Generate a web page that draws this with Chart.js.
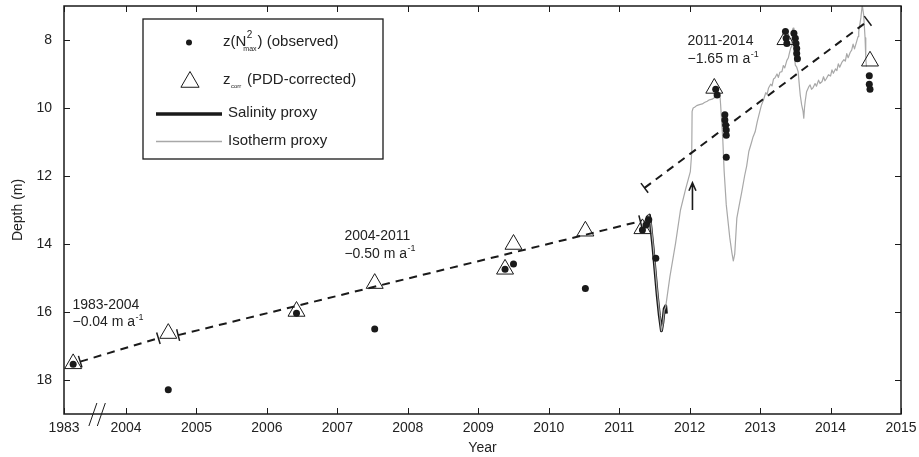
<!DOCTYPE html>
<html>
<head>
<meta charset="utf-8">
<title>Depth of the density interface</title>
<script src="https://cdn.jsdelivr.net/npm/chart.js@4.4.1/dist/chart.umd.min.js"></script>
<style>
  body { margin: 0; background: #fff; }
  #chart { display: block; }
</style>
</head>
<body>
<canvas id="chart" width="919" height="457"></canvas>
<script>
'use strict';

// DATA

// positions on the broken year axis; the first position stands for 1983
let xTickPos = [2003.12, 2004, 2005, 2006, 2007, 2008, 2009, 2010, 2011, 2012, 2013, 2014, 2015];
let xTickLabels = ['1983', '2004', '2005', '2006', '2007', '2008', '2009', '2010', '2011', '2012', '2013', '2014', '2015'];
let yTicks = [8, 10, 12, 14, 16, 18];

// z(N2max) observed (1983 sits at 2003.25 on the broken axis)
let obsYear = [2003.25, 2004.6, 2006.42, 2007.53, 2009.38, 2009.5, 2010.52,
  2011.33, 2011.38, 2011.42, 2011.52,
  2012.37, 2012.39, 2012.5, 2012.5, 2012.51, 2012.52, 2012.52, 2012.52,
  2013.36, 2013.37, 2013.38, 2013.48, 2013.5, 2013.51, 2013.52, 2013.52, 2013.53,
  2014.55, 2014.55, 2014.56];
let obsDepth = [17.54, 18.29, 16.04, 16.5, 14.74, 14.59, 15.31,
  13.59, 13.44, 13.29, 14.42,
  9.45, 9.62, 10.2, 10.35, 10.5, 10.65, 10.8, 11.45,
  7.75, 7.95, 8.1, 7.8, 7.95, 8.1, 8.25, 8.4, 8.55,
  9.05, 9.3, 9.45];

// z_corr (PDD-corrected)
let corrYear = [2003.25, 2004.6, 2006.42, 2007.53, 2009.38, 2009.5, 2010.52, 2011.33, 2012.35, 2013.36, 2014.56];
let corrDepth = [17.52, 16.63, 15.98, 15.16, 14.74, 14.01, 13.62, 13.55, 9.42, 7.99, 8.62];

// trend segments
let trendAYear = [2003.35, 2004.46];
let trendADepth = [17.46, 16.77];
let trendBYear = [2004.74, 2011.3];
let trendBDepth = [16.68, 13.33];
let trendCYear = [2011.36, 2014.53];
let trendCDepth = [12.35, 7.44];

// salinity proxy
let salYear = [2011.36, 2011.4, 2011.43, 2011.45, 2011.48, 2011.51, 2011.54, 2011.57, 2011.6, 2011.62, 2011.64, 2011.66, 2011.67];
let salDepth = [13.45, 13.2, 13.15, 13.5, 14.1, 14.8, 15.5, 16.1, 16.55, 16.3, 15.9, 15.82, 16.05];

// isotherm proxy
let isoYear = [2011.38, 2011.42, 2011.45, 2011.48, 2011.51, 2011.54, 2011.57, 2011.6, 2011.62, 2011.64, 2011.66,
  2011.72, 2011.8, 2011.87, 2011.94, 2012.01, 2012.03, 2012.035, 2012.05, 2012.07, 2012.1, 2012.14, 2012.18,
  2012.21, 2012.25, 2012.28, 2012.32, 2012.35, 2012.38, 2012.41, 2012.43, 2012.44, 2012.47, 2012.49, 2012.52,
  2012.57, 2012.6, 2012.62, 2012.64, 2012.67, 2012.7, 2012.74, 2012.78, 2012.81, 2012.84, 2012.88, 2012.9,
  2012.93, 2012.96, 2012.99, 2013.02, 2013.05, 2013.08, 2013.1, 2013.12, 2013.15, 2013.17, 2013.19, 2013.21,
  2013.24, 2013.26, 2013.28, 2013.31, 2013.33, 2013.35, 2013.38, 2013.4, 2013.42, 2013.44, 2013.45, 2013.46,
  2013.47, 2013.48, 2013.5, 2013.52, 2013.54, 2013.56, 2013.57, 2013.59, 2013.61, 2013.62, 2013.63, 2013.64,
  2013.66, 2013.69, 2013.71, 2013.73, 2013.75, 2013.78, 2013.8, 2013.83, 2013.85, 2013.88, 2013.9, 2013.92,
  2013.94, 2013.97, 2014.0, 2014.02, 2014.04, 2014.07, 2014.09, 2014.11, 2014.13, 2014.16, 2014.19, 2014.21,
  2014.23, 2014.25, 2014.28, 2014.3, 2014.32, 2014.34, 2014.37, 2014.39, 2014.4, 2014.43, 2014.45, 2014.47,
  2014.49, 2014.5, 2014.51];
let isoDepth = [13.35, 13.15, 13.4, 14.0, 14.7, 15.4, 16.0, 16.55, 16.35, 15.95, 15.85,
  14.96, 13.98, 13.0, 12.41, 11.87, 11.3, 10.1, 10.0, 9.98, 9.93, 9.9, 9.88,
  9.84, 9.8, 9.76, 9.74, 9.7, 9.66, 9.6, 9.62, 9.91, 10.9, 11.87, 12.85,
  13.82, 14.26, 14.5, 14.3, 13.24, 12.9, 12.47, 12.0, 11.7, 11.28, 11.0, 10.85,
  10.7, 10.4, 10.15, 9.91, 9.75, 9.55, 9.6, 9.41, 9.3, 9.35, 9.15, 9.12,
  9.0, 9.1, 8.95, 8.93, 8.75, 8.82, 8.6, 8.53, 8.35, 8.2, 8.15, 7.7,
  7.65, 8.3, 8.74, 8.8, 8.93, 9.4, 9.62, 9.91, 10.1, 10.3, 10.0, 9.81,
  9.52, 9.38, 9.32, 9.45, 9.41, 9.28, 9.36, 9.18, 9.28, 9.22, 9.08, 9.2,
  9.14, 9.02, 9.06, 8.88, 8.98, 8.85, 8.9, 8.7, 8.8, 8.66, 8.58, 8.62,
  8.4, 8.52, 8.36, 8.3, 8.12, 8.26, 8.05, 7.9, 7.76, 7.35, 6.97, 7.26,
  7.94, 8.53, 8.78];

// HELPERS

const FONT = "'Liberation Sans', Arial, Helvetica, sans-serif";
const INK = '#1a1a1a';

function toPoints(xs, ys) {
  return xs.map((x, i) => ({ x: x, y: ys[i] }));
}

function textWithSup(ctx, main, sup, x, y) {
  ctx.font = '14px ' + FONT;
  ctx.fillText(main, x, y);
  let w = ctx.measureText(main).width;
  ctx.font = '9px ' + FONT;
  ctx.fillText(sup, x + w + 0.5, y - 5);
}

// PLUGIN: box, inward ticks, axis break, arrow, notes, legend

const decor = {
  id: 'decor',
  afterDraw(chart) {
    const { ctx, chartArea: a, scales: { x, y } } = chart;
    ctx.save();

    // frame
    ctx.strokeStyle = INK;
    ctx.lineWidth = 1.5;
    ctx.strokeRect(a.left, a.top, a.right - a.left, a.bottom - a.top);

    // inward ticks on all sides
    ctx.lineWidth = 1;
    ctx.beginPath();
    x.ticks.forEach(t => {
      let px = Math.round(x.getPixelForValue(t.value)) + 0.5;
      ctx.moveTo(px, a.bottom); ctx.lineTo(px, a.bottom - 6);
      ctx.moveTo(px, a.top); ctx.lineTo(px, a.top + 6);
    });
    y.ticks.forEach(t => {
      let py = Math.round(y.getPixelForValue(t.value)) + 0.5;
      ctx.moveTo(a.left, py); ctx.lineTo(a.left + 6, py);
      ctx.moveTo(a.right, py); ctx.lineTo(a.right - 6, py);
    });
    ctx.stroke();

    // axis break marks
    ctx.beginPath();
    [2003.53, 2003.65].forEach(v => {
      let px = x.getPixelForValue(v);
      ctx.moveTo(px - 4, a.bottom + 12);
      ctx.lineTo(px + 4, a.bottom - 11);
    });
    ctx.stroke();

    // arrow
    let ax = x.getPixelForValue(2012.04);
    let aTop = y.getPixelForValue(12.2);
    let aBot = y.getPixelForValue(13.0);
    ctx.lineWidth = 1.6;
    ctx.beginPath();
    ctx.moveTo(ax, aBot); ctx.lineTo(ax, aTop);
    ctx.moveTo(ax - 3.5, aTop + 8); ctx.lineTo(ax, aTop); ctx.lineTo(ax + 3.5, aTop + 8);
    ctx.stroke();

    // trend notes
    ctx.fillStyle = '#222';
    ctx.textBaseline = 'middle';
    ctx.textAlign = 'left';
    let notes = [
      { x: 2003.24, y1: 15.79, y2: 16.31, head: '1983-2004', rate: '\u22120.04 m a' },
      { x: 2007.1, y1: 13.76, y2: 14.29, head: '2004-2011', rate: '\u22120.50 m a' },
      { x: 2011.97, y1: 8.03, y2: 8.56, head: '2011-2014', rate: '\u22121.65 m a' }
    ];
    notes.forEach(n => {
      let px = x.getPixelForValue(n.x);
      ctx.font = '14px ' + FONT;
      ctx.fillText(n.head, px, y.getPixelForValue(n.y1));
      textWithSup(ctx, n.rate, '-1', px, y.getPixelForValue(n.y2));
    });

    // legend
    let lx = a.left + 79;
    let ly = a.top + 13;
    ctx.fillStyle = '#fff';
    ctx.fillRect(lx, ly, 240, 140);
    ctx.strokeStyle = INK;
    ctx.lineWidth = 1.3;
    ctx.strokeRect(lx, ly, 240, 140);

    ctx.fillStyle = INK;
    ctx.beginPath();
    ctx.arc(lx + 46, ly + 23.5, 3, 0, Math.PI * 2);
    ctx.fill();

    ctx.lineWidth = 1;
    let tx = lx + 47, ty = ly + 63, r = 10.5;
    ctx.beginPath();
    ctx.moveTo(tx, ty - r);
    ctx.lineTo(tx + r * 0.866, ty + r / 2);
    ctx.lineTo(tx - r * 0.866, ty + r / 2);
    ctx.closePath();
    ctx.stroke();

    ctx.lineWidth = 3.5;
    ctx.beginPath();
    ctx.moveTo(lx + 13, ly + 95); ctx.lineTo(lx + 79, ly + 95);
    ctx.stroke();
    ctx.strokeStyle = '#a8a8a8';
    ctx.lineWidth = 1.3;
    ctx.beginPath();
    ctx.moveTo(lx + 13, ly + 122.5); ctx.lineTo(lx + 79, ly + 122.5);
    ctx.stroke();

    ctx.fillStyle = '#222';
    let t0 = lx + 80;
    ctx.font = '15px ' + FONT;
    ctx.fillText('z(N', t0, ly + 23);
    let w = ctx.measureText('z(N').width;
    ctx.font = '10px ' + FONT;
    ctx.fillText('2', t0 + w + 0.5, ly + 16.5);
    ctx.font = '7px ' + FONT;
    ctx.fillText('max', t0 + w - 3, ly + 30);
    let wm = ctx.measureText('max').width;
    ctx.font = '15px ' + FONT;
    ctx.fillText(') (observed)', t0 + w - 2 + wm, ly + 23);

    ctx.fillText('z', t0, ly + 61);
    let wz = ctx.measureText('z').width;
    ctx.font = '6px ' + FONT;
    ctx.fillText('corr', t0 + wz + 0.5, ly + 67);
    let wc = ctx.measureText('corr').width;
    ctx.font = '15px ' + FONT;
    ctx.fillText(' (PDD-corrected)', t0 + wz + wc + 2, ly + 61);

    ctx.fillText('Salinity proxy', lx + 85, ly + 94);
    ctx.fillText('Isotherm proxy', lx + 85, ly + 122);

    ctx.restore();
  }
};

// CHART

let ctx = document.getElementById('chart').getContext('2d');

Chart.defaults.font.family = FONT;
Chart.defaults.font.size = 14;
Chart.defaults.color = '#222';

function trendSet(xs, ys, rot) {
  return {
    type: 'line',
    data: toPoints(xs, ys),
    borderColor: INK,
    borderWidth: 2,
    borderDash: [8, 6],
    pointStyle: 'line',
    pointRadius: 6,
    pointRotation: rot,
    pointBorderWidth: 1.5,
    pointBorderColor: INK,
    tension: 0,
    order: 2
  };
}

new Chart(ctx, {
  type: 'scatter',
  data: {
    datasets: [
      {
        label: 'z(N2max) (observed)',
        data: toPoints(obsYear, obsDepth),
        pointStyle: 'circle',
        pointRadius: 3.5,
        backgroundColor: INK,
        borderColor: INK,
        borderWidth: 0,
        order: 0
      },
      {
        label: 'zcorr (PDD-corrected)',
        data: toPoints(corrYear, corrDepth),
        pointStyle: 'triangle',
        pointRadius: 9.8,
        backgroundColor: 'rgba(0,0,0,0)',
        borderColor: INK,
        borderWidth: 1,
        order: 1
      },
      trendSet(trendAYear, trendADepth, 73),
      trendSet(trendBYear, trendBDepth, 76),
      trendSet(trendCYear, trendCDepth, 53),
      {
        type: 'line',
        label: 'Isotherm proxy',
        data: toPoints(isoYear, isoDepth),
        borderColor: '#a8a8a8',
        borderWidth: 1.2,
        borderJoinStyle: 'round',
        pointRadius: 0,
        tension: 0,
        order: 3
      },
      {
        type: 'line',
        label: 'Salinity proxy',
        data: toPoints(salYear, salDepth),
        borderColor: INK,
        borderWidth: 3,
        borderJoinStyle: 'round',
        pointRadius: 0,
        tension: 0,
        order: 4
      }
    ]
  },
  options: {
    responsive: false,
    animation: false,
    devicePixelRatio: 1,
    layout: { autoPadding: false, padding: { left: 0, right: 18, top: 6, bottom: 0 } },
    plugins: {
      legend: { display: false },
      tooltip: { enabled: false }
    },
    scales: {
      x: {
        type: 'linear',
        min: xTickPos[0],
        max: 2015,
        afterBuildTicks: s => { s.ticks = xTickPos.map(v => ({ value: v })); },
        afterFit: s => {
          s.height = 43;
          s.paddingLeft = 0;
          s.paddingRight = 0;
        },
        ticks: {
          callback: (v, i) => xTickLabels[i],
          padding: 6,
          maxRotation: 0,
          autoSkip: false,
          color: '#222'
        },
        grid: { display: false, drawTicks: false },
        border: { display: false },
        title: { display: true, text: 'Year', padding: { top: 0, bottom: 0 }, color: '#222' }
      },
      y: {
        type: 'linear',
        min: 7,
        max: 19,
        reverse: true,
        afterBuildTicks: s => { s.ticks = yTicks.map(v => ({ value: v })); },
        afterFit: s => {
          s.width = 64;
          s.paddingTop = 0;
          s.paddingBottom = 0;
        },
        ticks: { padding: 12, color: '#222' },
        grid: { display: false, drawTicks: false },
        border: { display: false },
        title: { display: true, text: 'Depth (m)', padding: { top: 10, bottom: 0 }, color: '#222' }
      }
    }
  },
  plugins: [decor]
});
</script>
</body>
</html>
